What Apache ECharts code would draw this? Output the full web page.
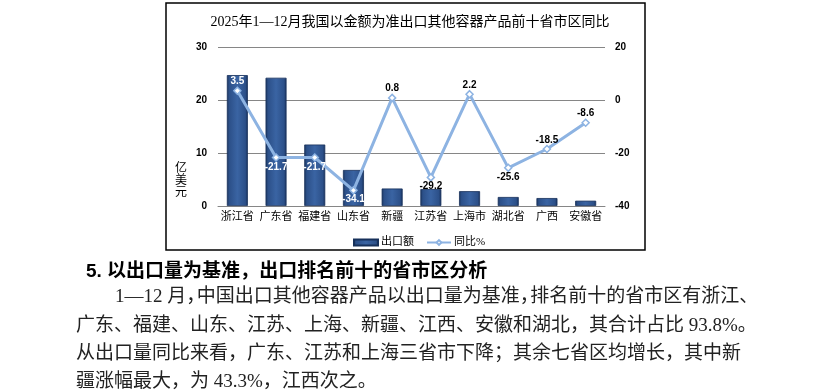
<!DOCTYPE html>
<html>
<head>
<meta charset="utf-8">
<script src="https://cdn.jsdelivr.net/npm/echarts@6/dist/echarts.min.js"></script>
<style>
  html, body { margin: 0; padding: 0; background: #fff; }
  #wrap { position: relative; width: 813px; height: 390px; overflow: hidden; }
  #chart { position: absolute; left: 0; top: 0; width: 813px; height: 390px; }
  .txt { position: absolute; white-space: nowrap; font-family: "Liberation Serif", "Noto Sans CJK SC", serif; font-size: 19px; color: #222; line-height: 24px; }
  .just { text-align: justify; text-align-last: justify; }
  .hd { position: absolute; white-space: nowrap; font-family: "Liberation Sans", "Noto Sans CJK SC", sans-serif; font-weight: bold; font-size: 19px; color: #000; line-height: 24px; }
  .cp { letter-spacing: -0.45em; }
</style>
</head>
<body>
<div id="wrap">
  <div id="chart"></div>
  <div class="hd" style="left:86px; top:259px;">5. 以出口量为基准，出口排名前十的省市区分析</div>
  <div class="txt just" style="left:115px; top:284px; width:625px;">1—12 月<span class="cp">，</span>中国出口其他容器产品以出口量为基准<span class="cp">，</span>排名前十的省市区有浙江、</div>
  <div class="txt just" style="left:76px; top:313px; width:660px;">广东、福建、山东、江苏、上海、新疆、江西、安徽和湖北，其合计占比 93.8%。</div>
  <div class="txt just" style="left:76px; top:341px; width:662px;">从出口量同比来看，广东、江苏和上海三省市下降；其余七省区均增长，其中新</div>
  <div class="txt" style="left:76px; top:369px;">疆涨幅最大，为 43.3%，江西次之。</div>
</div>
<script>
const chartTitle = '2025年1—12月我国以金额为准出口其他容器产品前十省市区同比';
const categories = ['浙江省', '广东省', '福建省', '山东省', '新疆', '江苏省', '上海市', '湖北省', '广西', '安徽省'];
const exportValues = [24.7, 24.2, 11.6, 6.8, 3.3, 3.2, 2.8, 1.7, 1.5, 1.0];
const yoyValues = [3.5, -21.7, -21.7, -34.1, 0.8, -29.2, 2.2, -25.6, -18.5, -8.6];
const leftTicks = { min: 0, max: 30, interval: 10 };
const rightTicks = { min: -40, max: 20, interval: 20 };
const seriesNames = ['出口额', '同比%'];
const unitName = '亿美元';

// styling of the line labels (not data)
const labelAbove = [true, false, false, false, true, false, true, false, true, true];
const labelWhite = [true, true, true, true, false, false, false, false, false, false];

const chart = echarts.init(document.getElementById('chart'), null, { renderer: 'canvas' });

const lineData = yoyValues.map((v, i) => ({
  value: v,
  label: {
    position: labelAbove[i] ? 'top' : 'bottom',
    distance: 0,
    color: labelWhite[i] ? '#ffffff' : '#000000'
  }
}));

const barGrad = new echarts.graphic.LinearGradient(0, 0, 1, 0, [
  { offset: 0, color: '#1b355d' },
  { offset: 0.12, color: '#2c5089' },
  { offset: 0.5, color: '#3a64a3' },
  { offset: 0.88, color: '#2c5089' },
  { offset: 1, color: '#17305a' }
]);

const option = {
  animation: false,
  backgroundColor: '#ffffff',
  title: {
    text: chartTitle,
    left: 405,
    textAlign: 'center',
    top: 10,
    textStyle: { fontFamily: '"Liberation Serif", "Noto Sans CJK SC"', fontSize: 14, fontWeight: 'normal', color: '#000' }
  },
  legend: {
    data: [
      { name: seriesNames[0], icon: 'rect' },
      { name: seriesNames[1] }
    ],
    left: 348,
    top: 232,
    itemWidth: 24,
    itemHeight: 6,
    itemGap: 12,
    textStyle: { fontFamily: '"Liberation Serif", "Noto Sans CJK SC"', fontSize: 11, color: '#000', padding: [0, 0, 0, -2] }
  },
  grid: { left: 218, right: 208, top: 47, bottom: 184, containLabel: false },
  xAxis: {
    type: 'category',
    data: categories,
    axisTick: { show: false },
    axisLine: { show: true, lineStyle: { color: '#868686', width: 1 } },
    axisLabel: { margin: 6, fontFamily: '"Liberation Serif", "Noto Sans CJK SC"', fontSize: 11, color: '#000', interval: 0 }
  },
  yAxis: [
    {
      type: 'value',
      min: leftTicks.min, max: leftTicks.max, interval: leftTicks.interval,
      axisLine: { show: false }, axisTick: { show: false },
      splitLine: { show: true, lineStyle: { color: '#868686', width: 1 } },
      axisLabel: { margin: 11, fontFamily: '"Liberation Sans"', fontWeight: 'bold', fontSize: 10, color: '#000' }
    },
    {
      type: 'value',
      min: rightTicks.min, max: rightTicks.max, interval: rightTicks.interval,
      axisLine: { show: false }, axisTick: { show: false },
      splitLine: { show: false },
      axisLabel: { margin: 10, fontFamily: '"Liberation Sans"', fontWeight: 'bold', fontSize: 10, color: '#000' }
    }
  ],
  series: [
    {
      name: seriesNames[0],
      type: 'bar',
      data: exportValues,
      barWidth: 21,
      itemStyle: { color: barGrad, borderColor: '#16305a', borderWidth: 0.8 },
      z: 2
    },
    {
      name: seriesNames[1],
      type: 'line',
      yAxisIndex: 1,
      data: lineData,
      symbol: 'diamond',
      symbolSize: 7,
      lineStyle: { color: '#8db3e2', width: 3 },
      itemStyle: { color: '#ffffff', borderColor: '#8db3e2', borderWidth: 1.5 },
      label: {
        show: true,
        fontFamily: '"Liberation Sans"',
        fontWeight: 'bold',
        fontSize: 10
      },
      z: 3
    }
  ],
  graphic: [
    {
      type: 'rect',
      shape: { x: 166, y: 3, width: 479, height: 247 },
      style: { fill: 'none', stroke: '#000', lineWidth: 1.5 },
      silent: true
    },
    {
      type: 'text',
      left: 175,
      top: 163,
      style: {
        text: unitName.split('').join('\n'),
        fontFamily: '"Liberation Serif", "Noto Sans CJK SC"',
        fontSize: 12,
        lineHeight: 12,
        fill: '#000'
      }
    }
  ]
};
chart.setOption(option);
</script>
</body>
</html>
